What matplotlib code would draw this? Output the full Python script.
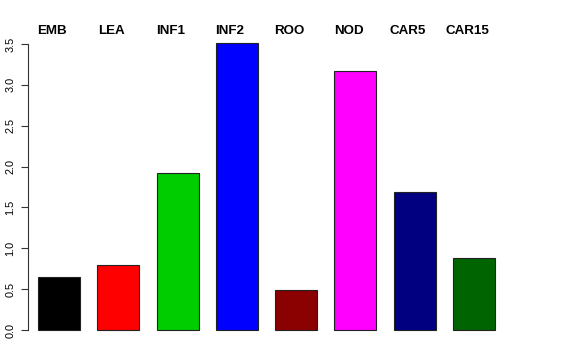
import matplotlib
matplotlib.use("Agg")
import matplotlib.pyplot as plt
import matplotlib.transforms as mtransforms
import numpy as np

groups = ["EMB", "LEA", "INF1", "INF2", "ROO", "NOD", "CAR5", "CAR15"]
values = [0.65, 0.80, 1.92, 3.51, 0.49, 3.17, 1.69, 0.88]
colors = ["#000000", "#FF0000", "#00CD00", "#0000FF",
          "#8B0000", "#FF00FF", "#000080", "#006400"]
yticks = [0.0, 0.5, 1.0, 1.5, 2.0, 2.5, 3.0, 3.5]

plt.rcParams["font.family"] = ["Liberation Sans", "DejaVu Sans"]

W, H = 576, 360
fig = plt.figure(figsize=(W / 100, H / 100), dpi=100)

# axes placement in pixels (R-like plot region)
left_px, right_px = 28, 548
top_px, bot_px = 44, 330
ax = fig.add_axes([left_px / W, (H - bot_px) / H,
                   (right_px - left_px) / W, (bot_px - top_px) / H])

step = 59.3  # px between bar centers
first_center = 59
x = np.arange(len(groups))
ax.set_xlim(-(first_center - left_px) / step, (right_px - first_center) / step)
ax.set_ylim(0, 3.5)

ax.bar(x, values, width=42 / step, color=colors, edgecolor="#222222",
       linewidth=0.8, clip_on=False)

# group labels above the plot
trans = mtransforms.blended_transform_factory(ax.transData, fig.transFigure)
for xi, g in zip(x, groups):
    ax.text(xi - 7 / step, (H - 31.5) / H, g, transform=trans, ha="center",
            va="center", fontsize=9.6, fontweight="bold")

for s in ["top", "right", "bottom"]:
    ax.spines[s].set_visible(False)
ax.spines["left"].set_linewidth(0.8)
ax.spines["left"].set_color("#333333")
ax.set_xticks([])
ax.set_yticks(yticks)
ax.set_yticklabels(["{:.1f}".format(v) for v in yticks], rotation=90,
                   va="center", fontsize=7.8)
ax.tick_params(axis="y", length=5, width=0.8, color="#333333", pad=4)

fig.savefig("out.png", dpi=100)
